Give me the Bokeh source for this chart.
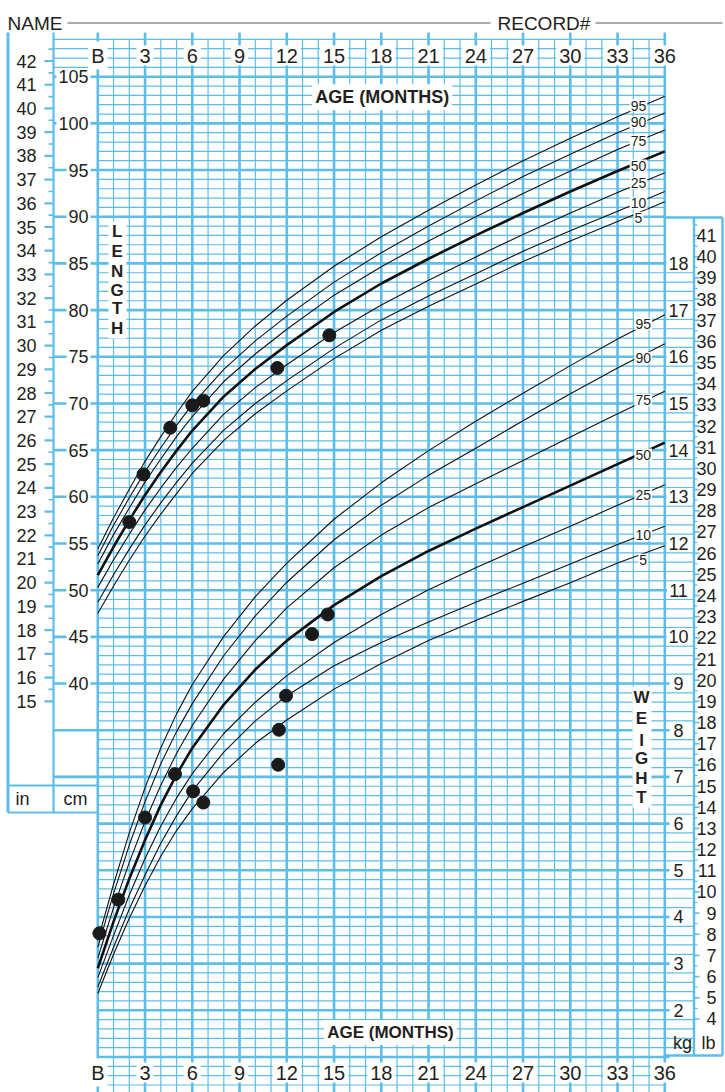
import numpy as np
from bokeh.plotting import figure
from bokeh.models import Range1d, Label
from bokeh.core.properties import value
from bokeh.embed import file_html
from bokeh.resources import INLINE

# ---------------- data ----------------
ages = [0, 1, 2, 3, 4, 5, 6, 8, 10, 12, 15, 18, 21, 24, 27, 30, 33, 36]

len_p95 = [54.4, 57.75, 60.8, 63.8, 66.45, 68.95, 71.3, 75.15, 78.3, 81.05, 84.7, 87.85, 90.7, 93.4, 96.0, 98.4, 100.7, 102.9]
len_p90 = [53.7, 56.95, 59.9, 62.7, 65.25, 67.65, 69.9, 73.65, 76.7, 79.35, 83.0, 86.15, 89.0, 91.7, 94.3, 96.7, 99.0, 101.1]
len_p75 = [52.8, 55.95, 58.8, 61.6, 64.05, 66.45, 68.6, 72.35, 75.3, 77.95, 81.6, 84.65, 87.4, 90.0, 92.5, 94.9, 97.2, 99.3]
len_p50 = [51.6, 54.65, 57.5, 60.2, 62.65, 64.95, 67.1, 70.75, 73.7, 76.25, 79.8, 82.85, 85.5, 88.0, 90.4, 92.7, 94.9, 97.0]
len_p25 = [50.3, 53.25, 56.0, 58.6, 60.95, 63.15, 65.2, 68.85, 71.7, 74.15, 77.6, 80.55, 83.2, 85.7, 88.1, 90.4, 92.6, 94.7]
len_p10 = [48.7, 51.65, 54.4, 57.0, 59.35, 61.55, 63.6, 67.15, 70.0, 72.45, 75.9, 78.95, 81.5, 83.9, 86.3, 88.5, 90.6, 92.7]
len_p5 = [47.5, 50.45, 53.2, 55.8, 58.15, 60.35, 62.5, 66.05, 68.9, 71.35, 74.8, 77.85, 80.4, 82.8, 85.2, 87.4, 89.5, 91.6]

wt_p95 = [3.5, 4.7, 5.8, 6.77, 7.62, 8.35, 8.98, 10.01, 10.86, 11.58, 12.52, 13.3, 13.99, 14.62, 15.22, 15.81, 16.38, 16.9]
wt_p90 = [3.35, 4.5, 5.54, 6.47, 7.28, 7.97, 8.57, 9.6, 10.45, 11.17, 12.08, 12.82, 13.46, 14.04, 14.63, 15.21, 15.76, 16.28]
wt_p75 = [3.12, 4.2, 5.17, 6.05, 6.82, 7.5, 8.1, 9.1, 9.92, 10.62, 11.48, 12.18, 12.77, 13.28, 13.78, 14.28, 14.78, 15.26]
wt_p50 = [2.9, 3.9, 4.82, 5.65, 6.4, 7.05, 7.62, 8.55, 9.3, 9.92, 10.68, 11.3, 11.84, 12.32, 12.78, 13.24, 13.7, 14.16]
wt_p25 = [2.7, 3.6, 4.47, 5.25, 5.95, 6.55, 7.07, 7.93, 8.6, 9.17, 9.88, 10.48, 11.01, 11.48, 11.93, 12.37, 12.82, 13.26]
wt_p10 = [2.5, 3.35, 4.17, 4.9, 5.58, 6.17, 6.7, 7.53, 8.2, 8.74, 9.38, 9.88, 10.32, 10.74, 11.15, 11.56, 11.98, 12.37]
wt_p5 = [2.36, 3.2, 3.97, 4.67, 5.3, 5.85, 6.32, 7.1, 7.72, 8.22, 8.88, 9.43, 9.92, 10.35, 10.76, 11.16, 11.58, 11.95]

len_dot_age = [2.0, 2.9, 4.6, 6.0, 6.7, 11.4, 14.7]
len_dot_cm = [57.3, 62.4, 67.4, 69.8, 70.3, 73.8, 77.3]
wt_dot_age = [0.1, 1.3, 3.0, 4.9, 6.05, 6.7, 11.45, 11.5, 11.95, 13.6, 14.6]
wt_dot_kg = [3.65, 4.37, 6.13, 7.06, 6.69, 6.45, 7.26, 8.01, 8.74, 10.06, 10.48]

age_ticks = [0, 3, 6, 9, 12, 15, 18, 21, 24, 27, 30, 33, 36]
age_labels = ["B", "3", "6", "9", "12", "15", "18", "21", "24", "27", "30", "33", "36"]
cm_ticks = [40, 45, 50, 55, 60, 65, 70, 75, 80, 85, 90, 95, 100, 105]
in_ticks = list(range(15, 43))
kg_ticks = list(range(2, 19))
lb_ticks = list(range(4, 42))
pct_names = ["95", "90", "75", "50", "25", "10", "5"]

# ---------------- geometry ----------------
W, H, OFF = 725, 1092, 0
PXM, X0 = 15.75, 97.3
PXC, Y105 = 9.336, 76.2


def mx(px):
    return (px - X0) / PXM


def cy(py):
    return 105 - (py - Y105) / PXC


xs, xe = mx(OFF), mx(OFF + W)
ys, ye = cy(OFF + H), cy(OFF)

BLUE = "#5cbde9"
INK = "#231f20"
FONT = "Liberation Sans"

p = figure(width=W, height=H, x_range=Range1d(xs, xe), y_range=Range1d(ys, ye),
           x_axis_location=None, y_axis_location=None, toolbar_location=None,
           output_backend="svg", min_border=0)
p.outline_line_color = None
p.grid.visible = False
p.extra_y_ranges = {
    "kg": Range1d((ys + 5) / 5, (ye + 5) / 5),
    "in": Range1d(ys / 2.54, ye / 2.54),
    "lb": Range1d((ys + 5) / 5 * 2.20462, (ye + 5) / 5 * 2.20462),
}

# ---------------- grid ----------------
thin_m = [m for m in range(0, 37) if m % 3]
p.segment(thin_m, 109, thin_m, ys, line_color=BLUE, line_width=1.2)
p.segment(age_ticks, cy(32), age_ticks, ys, line_color=BLUE, line_width=2.6)

cm_thin = [c for c in range(-3, 110) if c % 5]
x0s = [mx(53) if c > 105 else 0 for c in cm_thin]
x1s = [mx(693.5) if 0 <= c <= 85 else 36 for c in cm_thin]
p.segment(x0s, cm_thin, x1s, cm_thin, line_color=BLUE, line_width=1.2)
cm_major = list(range(0, 110, 5))
x0s = [mx(53) if c >= 30 else 0 for c in cm_major]
x1s = [mx(669) if c <= 85 else 36 for c in cm_major]
p.segment(x0s, cm_major, x1s, cm_major, line_color=BLUE, line_width=2.6)

# left column frame
p.segment([mx(53)], [cy(32)], [mx(53)], [cy(812)], line_color=BLUE, line_width=2.2)
p.segment([mx(7.5)], [cy(32)], [mx(7.5)], [cy(812)], line_color=BLUE, line_width=3)
p.segment([mx(7.5), mx(7.5)], [cy(785), cy(812)], [0, 0], [cy(785), cy(812)], line_color=BLUE, line_width=2.2)

# inch ticks
p.segment([mx(44)] * len(in_ticks), in_ticks, [mx(53)] * len(in_ticks), in_ticks,
          line_color=BLUE, line_width=2.2, y_range_name="in")
half_in = [t + 0.5 for t in in_ticks]
p.segment([mx(48)] * len(half_in), half_in, [mx(53)] * len(half_in), half_in,
          line_color=BLUE, line_width=1.6, y_range_name="in")

# right panel frame
p.segment([36, mx(693.5), 36, mx(722)], [cy(217), cy(217), cy(1055), cy(217)],
          [mx(722), mx(693.5), mx(722), mx(722)], [cy(217), cy(1055), cy(1055), cy(1055)],
          line_color=BLUE, line_width=2.4)
p.segment([mx(693.5)] * len(lb_ticks), lb_ticks, [mx(699)] * len(lb_ticks), lb_ticks,
          line_color=BLUE, line_width=1.6, y_range_name="lb")
half_lb = [t + 0.5 for t in lb_ticks]
p.segment([mx(693.5)] * len(half_lb), half_lb, [mx(697)] * len(half_lb), half_lb,
          line_color=BLUE, line_width=1.2, y_range_name="lb")

# ---------------- curves ----------------
for ser, lw in zip([len_p95, len_p90, len_p75, len_p50, len_p25, len_p10, len_p5],
                   [1.1, 1.1, 1.1, 2.6, 1.1, 1.1, 1.1]):
    p.line(ages, ser, line_color="#111111", line_width=lw, line_join="round")
for ser, lw in zip([wt_p95, wt_p90, wt_p75, wt_p50, wt_p25, wt_p10, wt_p5],
                   [1.1, 1.1, 1.1, 2.6, 1.1, 1.1, 1.1]):
    p.line(ages, ser, line_color="#111111", line_width=lw, line_join="round", y_range_name="kg")

p.scatter(len_dot_age, len_dot_cm, size=13, color="#1a1a1a")
p.scatter(wt_dot_age, wt_dot_kg, size=13, color="#1a1a1a", y_range_name="kg")


# ---------------- labels ----------------
def lab(x, y, t, size="18px", align="center", bold=False, bg=True, pad=2, yr="default"):
    p.add_layout(Label(x=x, y=y, text=t, text_font=FONT, text_font_size=size,
                       text_font_style="bold" if bold else "normal",
                       text_color=INK, text_align=align, text_baseline="middle",
                       background_fill_color="white" if bg else None,
                       padding=pad, y_range_name=yr))


for m, t in zip(age_ticks, age_labels):
    lab(m, cy(55), t, size="20px", pad=3)
    lab(m, cy(1072), t, size="20px", pad=3)

for c in cm_ticks:
    lab(mx(90), c, str(c), align="right", pad=2)
for t in in_ticks:
    lab(mx(38), t, str(t), align="right", bg=False, yr="in")
for k in kg_ticks:
    lab(mx(678), k, str(k), pad=2, yr="kg")
for t in lb_ticks:
    lab(mx(718), t, str(t), align="right", bg=False, yr="lb")

lab(mx(22), cy(798), "in", bg=False)
lab(mx(75), cy(798), "cm", bg=False)
lab(mx(682), cy(1042), "kg", bg=False)
lab(mx(708), cy(1042), "lb", bg=False)

lab(mx(381.7), cy(96.7), "AGE (MONTHS)", size="18px", bold=True, pad=3)
lab(mx(390), cy(1032), "AGE (MONTHS)", size="17px", bold=True, pad=3)

len_lab_y = [105, 121.7, 140, 165, 182.7, 202.7, 217.3]
for t, yy in zip(pct_names, len_lab_y):
    lab(mx(638), cy(yy), t, size="14px", pad=1)
wt_lab_y = [323.3, 357.3, 399.3, 454, 494, 534, 559.3]
for t, yy in zip(pct_names, wt_lab_y):
    lab(mx(642.7), cy(yy), t, size="14px", pad=1)

# vertical words
p.quad(left=[mx(108), mx(632)], right=[mx(126), mx(651)], top=[cy(221), cy(686)],
       bottom=[cy(338), cy(807)], fill_color="white", line_color=None)
L_y = [230.7, 250.9, 270.7, 290, 308.3, 328.3]
p.text([mx(116.7)] * 6, [cy(v) for v in L_y], text=list("LENGTH"), text_font=value(FONT),
       text_font_size="17px", text_font_style="bold", text_align="center",
       text_baseline="middle", text_color=INK)
W_y = [696.7, 718, 740, 758, 778, 796.7]
p.text([mx(641)] * 6, [cy(v) for v in W_y], text=list("WEIGHT"), text_font=value(FONT),
       text_font_size="17px", text_font_style="bold", text_align="center",
       text_baseline="middle", text_color=INK)

# header
p.segment([mx(67), mx(595)], [cy(22.5)] * 2, [mx(490), mx(722)], [cy(22.5)] * 2,
          line_color="#aaaaaa", line_width=2)
p.add_layout(Label(x=mx(7), y=cy(23), text="NAME", text_font=FONT, text_font_size="19px",
                   text_color=INK, text_align="left", text_baseline="alphabetic"))
p.add_layout(Label(x=mx(497), y=cy(23), text="RECORD#", text_font=FONT, text_font_size="19px",
                   text_color=INK, text_align="left", text_baseline="alphabetic"))

open("out.html", "w").write(file_html(p, INLINE))
